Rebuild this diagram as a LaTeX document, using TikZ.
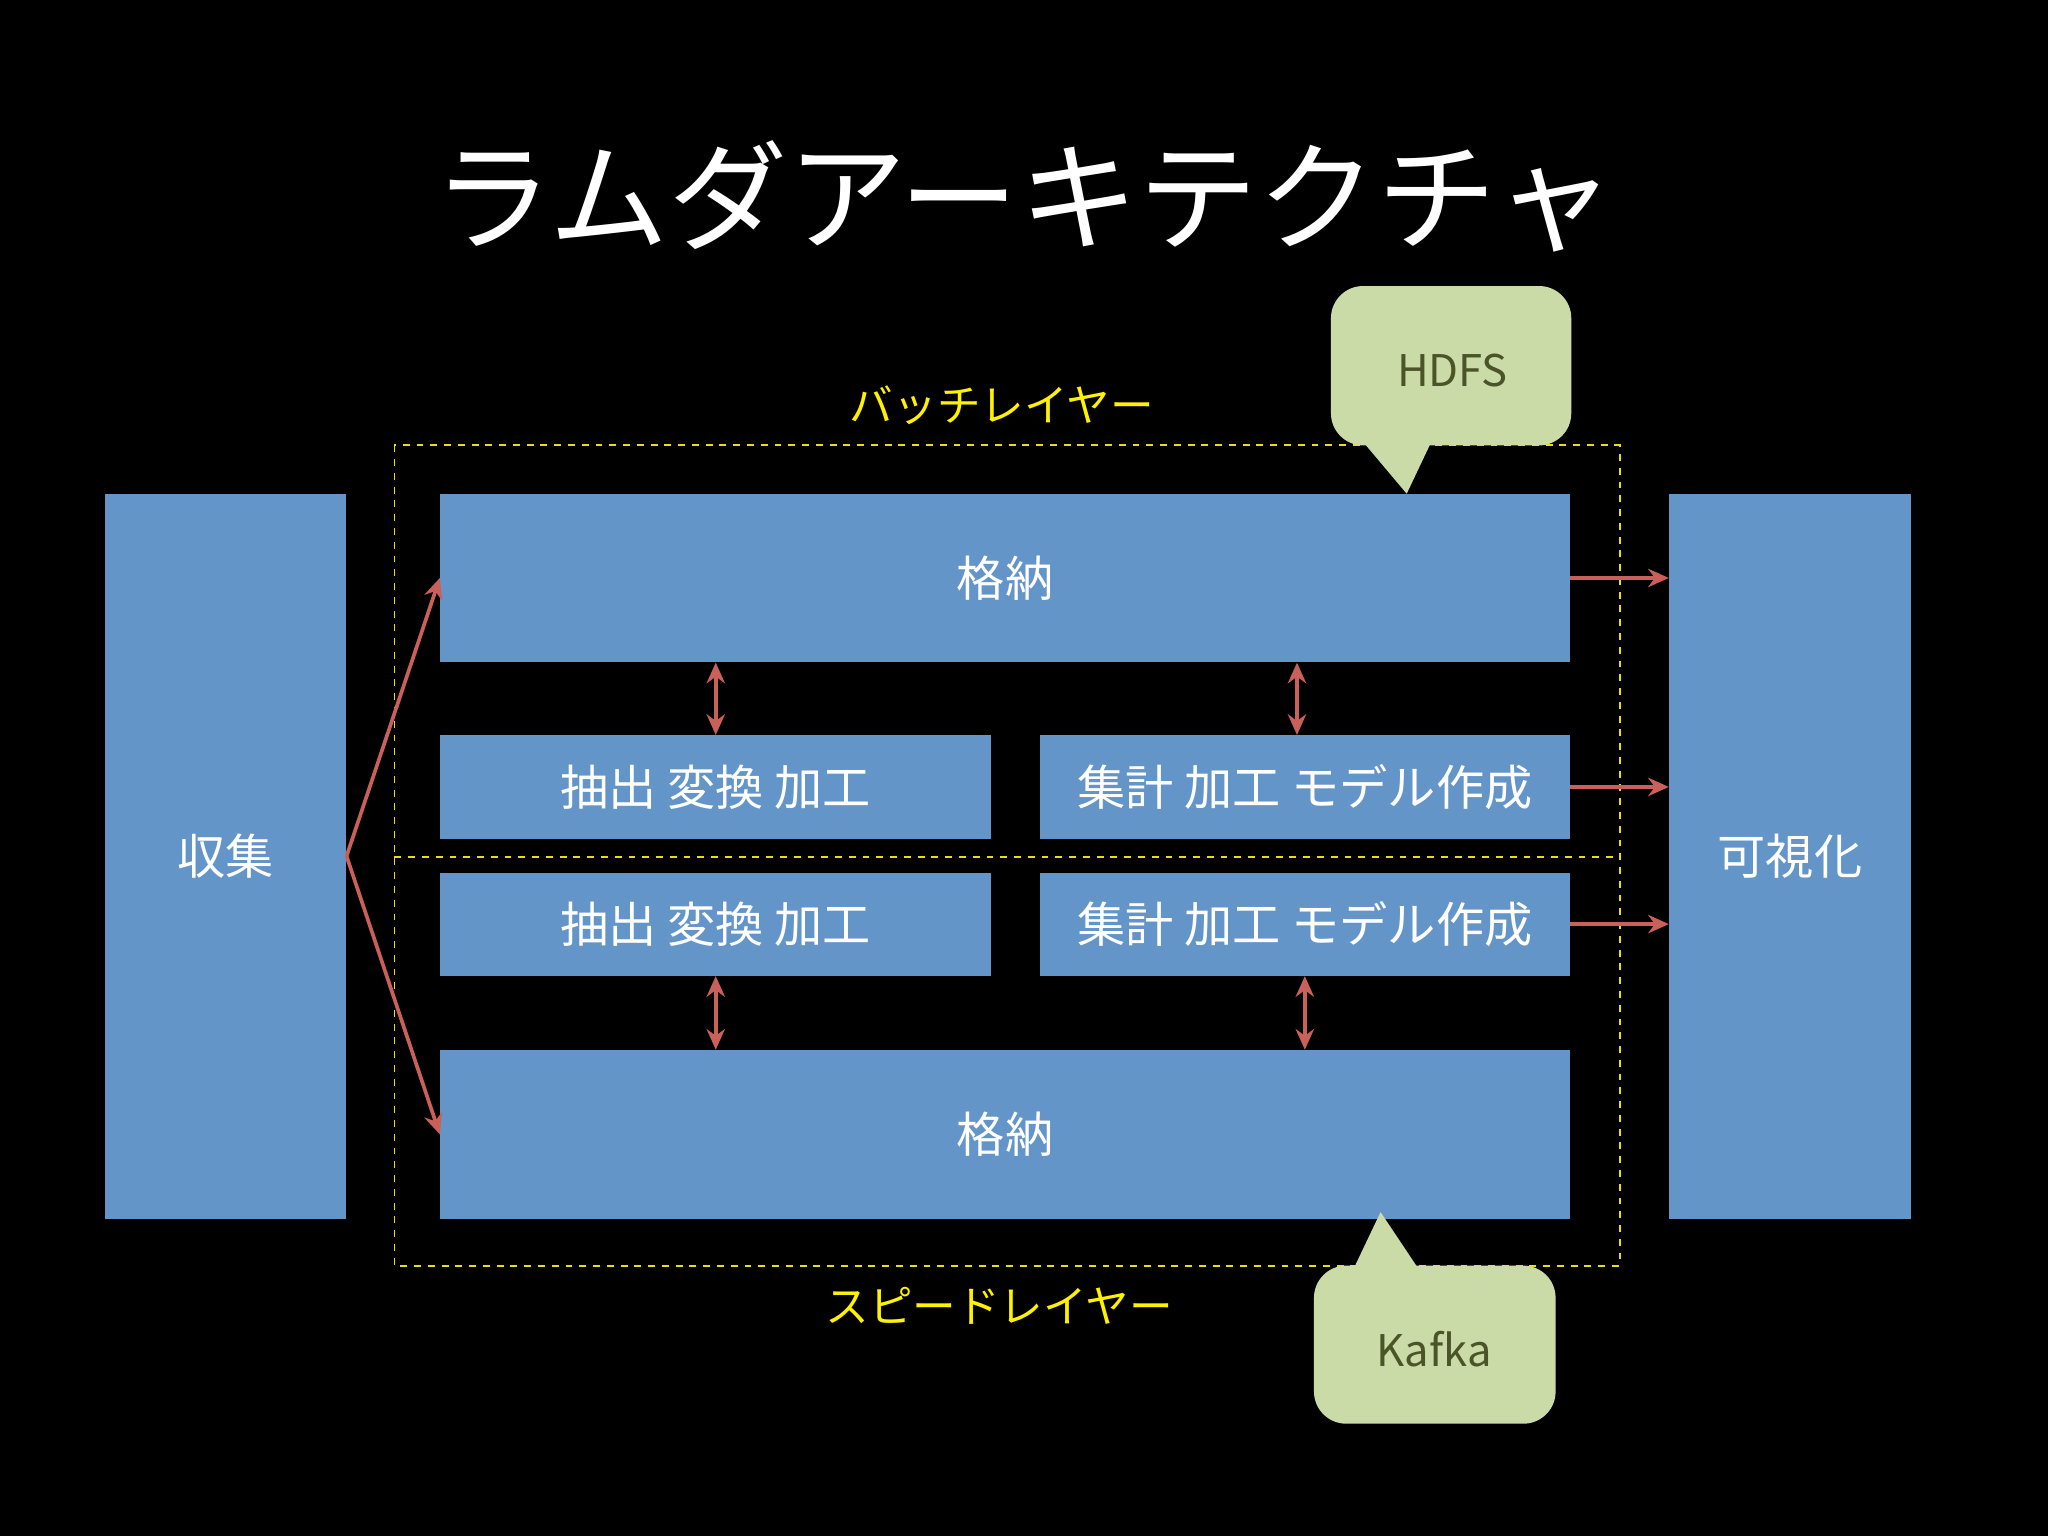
\documentclass[tikz,border=0pt]{standalone}
\usepackage{fontspec}
\setmainfont{Noto Sans CJK JP}
\usetikzlibrary{arrows.meta}
\definecolor{boxblue}{HTML}{6495C9}
\definecolor{arr}{HTML}{C9605A}
\definecolor{callout}{HTML}{CBDBA8}
\definecolor{callt}{HTML}{4A5428}
\begin{document}
\begin{tikzpicture}[x=0.02cm,y=-0.02cm,
  blk/.style={fill=boxblue,draw=none,text=white,inner sep=0pt,font=\fontsize{21}{24}\selectfont},
  arw/.style={draw=arr,line width=1.6pt,-{Stealth[length=9pt,width=8pt]}},
  darw/.style={draw=arr,line width=1.6pt,{Stealth[length=9pt,width=8pt]}-{Stealth[length=9pt,width=8pt]}},
  lay/.style={draw=yellow!90!black,dashed,line width=0.8pt},
  ylab/.style={text=yellow,font=\fontsize{19}{22}\selectfont},
  clt/.style={text=callt,font=\fontsize{19}{22}\selectfont}]
\fill[black] (0,0) rectangle (1568,1176);
\useasboundingbox (0,0) rectangle (1568,1176);
\node[text=white,font=\fontsize{52}{60}\selectfont] (title) at (784,150) {ラムダアーキテクチャ};
% layers
\draw[lay] (302,341) rectangle (1240,969);
\draw[lay] (302,656) -- (1240,656);
\node[ylab] (bl) at (767,310) {バッチレイヤー};
\node[ylab] (sl) at (765,1000) {スピードレイヤー};
% boxes
\node[blk,minimum width=3.7cm,minimum height=11.1cm] (col) at (172.5,655.5) {収集};
\node[blk,minimum width=3.7cm,minimum height=11.1cm] (viz) at (1370.5,655.5) {可視化};
\node[blk,minimum width=17.3cm,minimum height=2.58cm] (st1) at (769.5,442.5) {格納};
\node[blk,minimum width=8.44cm,minimum height=1.58cm] (e1) at (548,602.5) {抽出 変換 加工};
\node[blk,minimum width=8.12cm,minimum height=1.58cm] (a1) at (999,602.5) {集計 加工 モデル作成};
\node[blk,minimum width=8.44cm,minimum height=1.58cm] (e2) at (548,707.5) {抽出 変換 加工};
\node[blk,minimum width=8.12cm,minimum height=1.58cm] (a2) at (999,707.5) {集計 加工 モデル作成};
\node[blk,minimum width=17.3cm,minimum height=2.58cm] (st2) at (769.5,868.5) {格納};
% arrows
\draw[arw] (col.east) -- (st1.west);
\draw[arw] (col.east) -- (st2.west);
\draw[arw] (st1.east) -- (st1.east -| viz.west);
\draw[arw] (a1.east) -- (a1.east -| viz.west);
\draw[arw] (a2.east) -- (a2.east -| viz.west);
\draw[darw] (st1.south -| e1) -- (e1.north);
\draw[darw] ([xshift=-0.12cm]st1.south -| a1) -- ([xshift=-0.12cm]a1.north);
\draw[darw] (e2.south) -- (st2.north -| e2);
\draw[darw] (a2.south) -- (st2.north -| a2);
% callouts
\fill[callout,rounded corners=14pt] (1019,219) rectangle (1203,341);
\fill[callout] (1045,340) -- (1077,378) -- (1095,340) -- cycle;
\node[clt] (hdfs) at (1112,284) {HDFS};
\fill[callout,rounded corners=14pt] (1006,969) rectangle (1191,1090);
\fill[callout] (1037,970) -- (1057,928) -- (1085,970) -- cycle;
\node[clt] (kafka) at (1098,1033) {Kafka};
\end{tikzpicture}
\end{document}
